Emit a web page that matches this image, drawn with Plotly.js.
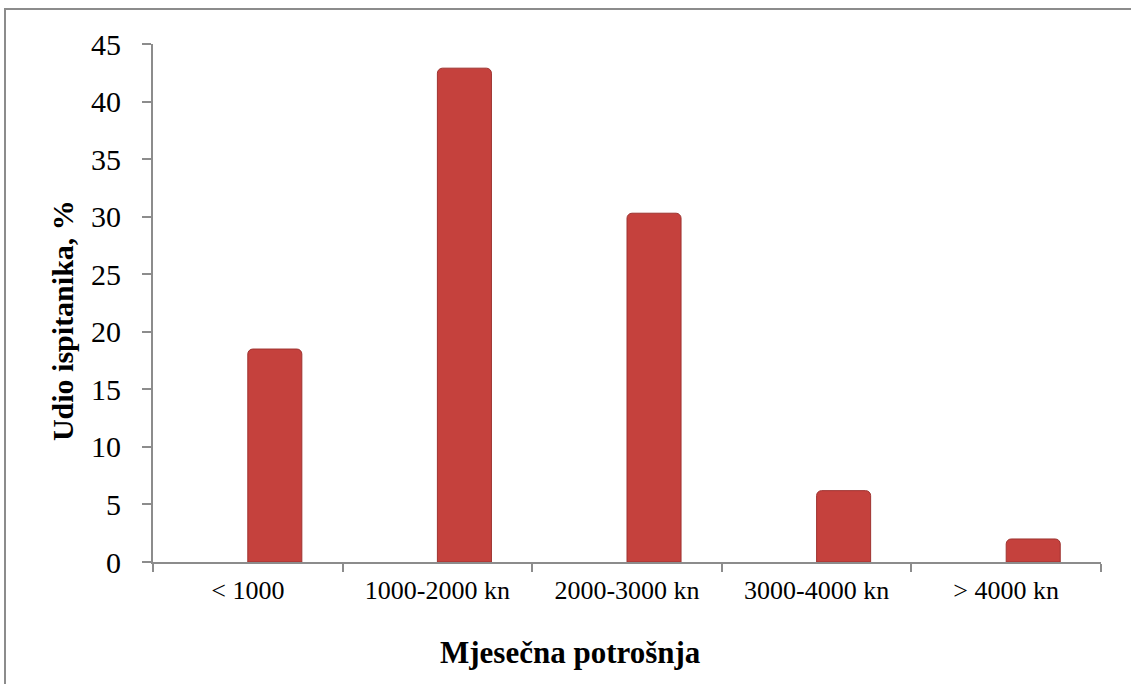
<!DOCTYPE html>
<html>
<head>
<meta charset="utf-8">
<script src="https://cdn.plot.ly/plotly-3.0.1.min.js"></script>
<style>
  html, body { margin: 0; padding: 0; background: #ffffff; overflow: hidden; }
  #frame { position: absolute; left: 4px; top: 8px; width: 1200px; height: 800px;
           border: 2px solid #8c8c8c; box-sizing: border-box; }
  #chart { position: absolute; left: 0; top: 0; width: 1131px; height: 684px; }
</style>
</head>
<body>
<div id="frame"></div>
<div id="chart"></div>
<script>
const categories = ["< 1000", "1000-2000 kn", "2000-3000 kn", "3000-4000 kn", "> 4000 kn"];
const shares = [18.5, 42.9, 30.3, 6.2, 2.0];
const yTicks = [0, 5, 10, 15, 20, 25, 30, 35, 40, 45];
const xTitle = "Mjesečna potrošnja";
const yTitle = "Udio ispitanika, %";

const serif = "'Liberation Serif', 'Times New Roman', serif";

const trace = {
  type: "bar",
  x: categories,
  y: shares,
  offset: 0,
  width: 0.285,
  marker: {
    color: "#c5413d",
    line: { color: "#9e3330", width: 1 },
    cornerradius: 5
  },
  hoverinfo: "x+y"
};

const layout = {
  width: 1131,
  height: 684,
  margin: { l: 153, r: 30, t: 44, b: 122 },
  paper_bgcolor: "rgba(0,0,0,0)",
  plot_bgcolor: "rgba(0,0,0,0)",
  showlegend: false,
  font: { family: serif, color: "#000000" },
  xaxis: {
    type: "category",
    range: [-0.5, 4.5],
    showline: true,
    linecolor: "#8c8c8c",
    linewidth: 2,
    ticks: "outside",
    tickson: "boundaries",
    ticklen: 8,
    tickwidth: 2,
    tickcolor: "#8c8c8c",
    showgrid: false,
    zeroline: false,
    tickfont: { family: serif, size: 26, color: "#000000" },
    ticklabelstandoff: 4,
    fixedrange: true
  },
  yaxis: {
    range: [0, 45],
    tickvals: yTicks,
    ticktext: yTicks.map(String),
    showline: true,
    linecolor: "#8c8c8c",
    linewidth: 2,
    ticks: "outside",
    ticklen: 9,
    tickwidth: 2,
    tickcolor: "#8c8c8c",
    showgrid: false,
    zeroline: false,
    tickfont: { family: serif, size: 30, color: "#000000" },
    ticklabelstandoff: 15,
    fixedrange: true
  },
  annotations: [
    {
      text: "<b>" + xTitle + "</b>",
      xref: "paper", yref: "paper",
      x: 0.44, y: -0.174,
      xanchor: "center", yanchor: "middle",
      showarrow: false,
      font: { family: serif, size: 31, color: "#000000" }
    },
    {
      text: "<b>" + yTitle + "</b>",
      xref: "paper", yref: "paper",
      x: -0.096, y: 0.467,
      xanchor: "center", yanchor: "middle",
      textangle: -90,
      showarrow: false,
      font: { family: serif, size: 30, color: "#000000" }
    }
  ]
};

Plotly.newPlot("chart", [trace], layout, { displayModeBar: false, staticPlot: true });
</script>
</body>
</html>
